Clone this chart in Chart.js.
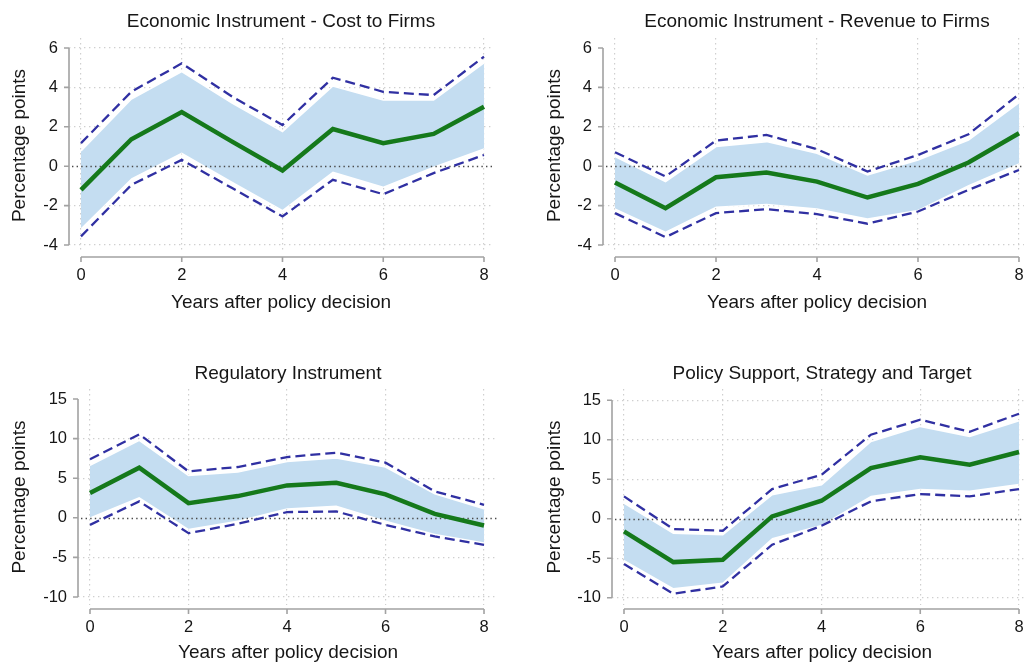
<!DOCTYPE html>
<html>
<head>
<meta charset="utf-8">
<title>Policy effects by instrument type</title>
<script src="https://cdn.jsdelivr.net/npm/chart.js@4/dist/chart.umd.min.js"></script>
<style>
  html, body { margin: 0; padding: 0; background: #fff; overflow: hidden; width: 1024px; height: 664px; }
  canvas { position: absolute; display: block; }
</style>
</head>
<body>
<canvas id="p1"></canvas>
<canvas id="p2"></canvas>
<canvas id="p3"></canvas>
<canvas id="p4"></canvas>
<script>
// Horizon (years after the policy decision)
const years = [0, 1, 2, 3, 4, 5, 6, 7, 8];
const xTicks = [0, 2, 4, 6, 8];
const yTicksSmall = [-4, -2, 0, 2, 4, 6];
const yTicksLarge = [-10, -5, 0, 5, 10, 15];

// Economic instrument - cost to firms
const costEst  = [-1.20, 1.37, 2.75, 1.25, -0.22, 1.89, 1.17, 1.64, 3.02];
const costHi68 = [0.78, 3.41, 4.80, 3.20, 1.76, 4.07, 3.36, 3.36, 5.25];
const costLo68 = [-3.14, -0.61, 0.69, -0.78, -2.21, -0.27, -1.03, -0.02, 0.91];
const costHi90 = [1.17, 3.78, 5.22, 3.53, 2.09, 4.49, 3.78, 3.61, 5.56];
const costLo90 = [-3.56, -0.95, 0.32, -1.11, -2.55, -0.69, -1.42, -0.35, 0.57];

// Economic instrument - revenue to firms
const revEst  = [-0.83, -2.13, -0.56, -0.32, -0.78, -1.59, -0.90, 0.19, 1.67];
const revHi68 = [0.49, -0.78, 1.00, 1.25, 0.66, -0.44, 0.32, 1.33, 3.23];
const revLo68 = [-2.13, -3.31, -2.04, -1.91, -2.13, -2.64, -2.21, -0.95, 0.15];
const revHi90 = [0.71, -0.52, 1.30, 1.59, 0.86, -0.27, 0.57, 1.62, 3.65];
const revLo90 = [-2.38, -3.60, -2.38, -2.18, -2.43, -2.92, -2.30, -1.20, -0.19];

// Regulatory instrument
const regEst  = [3.12, 6.32, 1.85, 2.74, 4.09, 4.43, 2.95, 0.50, -0.97];
const regHi68 = [6.62, 9.78, 5.35, 5.78, 7.12, 7.55, 6.41, 3.04, 1.14];
const regLo68 = [0.08, 2.61, -1.39, -0.34, 1.22, 1.56, -0.34, -2.02, -3.08];
const regHi90 = [7.38, 10.54, 5.86, 6.41, 7.67, 8.22, 6.96, 3.33, 1.64];
const regLo90 = [-0.89, 2.07, -1.94, -0.76, 0.72, 0.80, -0.89, -2.36, -3.41];

// Policy support, strategy and target
const polEst  = [-1.60, -5.49, -5.19, 0.30, 2.28, 6.42, 7.77, 6.84, 8.45];
const polHi68 = [1.98, -1.82, -2.03, 3.04, 4.31, 9.80, 11.70, 10.43, 12.42];
const polLo68 = [-5.19, -8.78, -8.07, -2.45, -0.76, 2.91, 3.80, 3.59, 4.43];
const polHi90 = [2.83, -1.31, -1.52, 3.76, 5.57, 10.64, 12.54, 11.02, 13.30];
const polLo90 = [-5.74, -9.50, -8.57, -3.29, -0.89, 2.20, 3.13, 2.83, 3.76];

const FONT = "'Liberation Sans', Arial, Helvetica, sans-serif";
const INK = '#161616';
const GREEN = '#15791b';
const NAVY = '#3030a2';
const BAND = '#c4ddf1';
const AXIS = '#a2a2a2';

Chart.defaults.font.family = FONT;
Chart.defaults.color = INK;

const pts = vals => vals.map((v, i) => ({ x: years[i], y: v }));

// Stata-style detached axes plus the dotted zero reference line
const axisFrame = {
  id: 'axisFrame',
  afterDatasetDraw(chart, args) {
    if (args.index !== 3) return;
    const { ctx, chartArea, scales: { y } } = chart;
    const py = Math.round(y.getPixelForValue(0)) + 0.5;
    ctx.save();
    ctx.strokeStyle = '#4a4a4a';
    ctx.lineWidth = 1.3;
    ctx.setLineDash([1.4, 3.2]);
    ctx.beginPath();
    ctx.moveTo(chartArea.left + 3, py);
    ctx.lineTo(chartArea.right, py);
    ctx.stroke();
    ctx.restore();
  },
  afterDraw(chart, args, opts) {
    const { ctx, chartArea, scales: { x, y } } = chart;
    ctx.save();
    ctx.strokeStyle = AXIS;
    ctx.lineWidth = 1.6;
    ctx.setLineDash([]);
    const ax = chartArea.left;
    const yp = y.ticks.map(t => y.getPixelForValue(t.value));
    ctx.beginPath();
    ctx.moveTo(ax, Math.min(...yp));
    ctx.lineTo(ax, Math.max(...yp));
    yp.forEach(p => { ctx.moveTo(ax - 5, p); ctx.lineTo(ax, p); });
    const ay = chartArea.bottom + opts.gap;
    const xp = x.ticks.map(t => x.getPixelForValue(t.value));
    ctx.moveTo(Math.min(...xp), ay);
    ctx.lineTo(Math.max(...xp), ay);
    xp.forEach(p => { ctx.moveTo(p, ay); ctx.lineTo(p, ay + 5); });
    ctx.stroke();
    ctx.restore();
  }
};

function makePanel(id, cfg) {
  const el = document.getElementById(id);
  el.width = cfg.w; el.height = cfg.h;
  el.style.left = cfg.left + 'px'; el.style.top = cfg.top + 'px';
  el.style.width = cfg.w + 'px'; el.style.height = cfg.h + 'px';

  const gridColor = ctx => (ctx.tick && cfg.grid.includes(ctx.tick.value)) ? '#cfcfcf' : 'rgba(0,0,0,0)';
  const dashed = vals => ({ data: pts(vals), borderColor: NAVY, borderWidth: 2.3, borderDash: [10, 5], pointRadius: 0, fill: false, tension: 0 });

  new Chart(el, {
    type: 'line',
    data: {
      datasets: [
        { data: pts(cfg.est), borderColor: GREEN, borderWidth: 4.5, pointRadius: 0, fill: false, tension: 0 },
        dashed(cfg.hi90),
        dashed(cfg.lo90),
        { data: pts(cfg.hi68), borderColor: '#ffffff', borderWidth: 1.6, backgroundColor: BAND, pointRadius: 0, fill: '+1', tension: 0 },
        { data: pts(cfg.lo68), borderColor: '#ffffff', borderWidth: 1.6, backgroundColor: BAND, pointRadius: 0, fill: false, tension: 0 }
      ]
    },
    options: {
      responsive: false,
      animation: false,
      events: [],
      layout: { padding: { left: cfg.padL, right: cfg.padR, top: cfg.padT, bottom: cfg.padB } },
      plugins: {
        legend: { display: false },
        tooltip: { enabled: false },
        title: {
          display: true, text: cfg.title, fullSize: false, color: INK,
          font: { size: 19, weight: 'normal', lineHeight: 1.2 },
          padding: { top: 0, bottom: cfg.titleGap }
        },
        axisFrame: { gap: 4 }
      },
      scales: {
        x: {
          type: 'linear', min: cfg.xMin, max: cfg.xMax,
          afterBuildTicks: s => { s.ticks = xTicks.map(v => ({ value: v })); },
          afterFit: s => { s.height = cfg.xH; },
          ticks: { padding: 13, font: { size: 16.5 }, color: INK, callback: v => String(v) },
          grid: { color: '#cfcfcf', lineWidth: 1.2, drawTicks: false },
          border: { display: false, dash: [1.4, 3.6] },
          title: { display: true, text: 'Years after policy decision', color: INK, font: { size: 19, lineHeight: 1.2 }, padding: { top: 0, bottom: 0 } }
        },
        y: {
          type: 'linear', min: cfg.yMin, max: cfg.yMax,
          afterBuildTicks: s => { s.ticks = cfg.yTicks.map(v => ({ value: v })); },
          afterFit: s => { s.width = cfg.yW; },
          ticks: { padding: 11, font: { size: 16.5 }, color: INK, callback: v => String(v) },
          grid: { color: gridColor, lineWidth: 1.2, drawTicks: false },
          border: { display: false, dash: [1.4, 3.6] },
          title: { display: true, text: 'Percentage points', color: INK, font: { size: 19, lineHeight: 1.2 }, padding: { top: cfg.yTitlePad, bottom: 0 } }
        }
      }
    },
    plugins: [axisFrame]
  });
}

// Top row: plot area 38..253 px, bottom row: 57..273 px (canvas-local)
makePanel('p1', {
  left: 0, top: 0, w: 512, h: 332,
  title: 'Economic Instrument - Cost to Firms',
  est: costEst, hi68: costHi68, lo68: costLo68, hi90: costHi90, lo90: costLo90,
  yTicks: yTicksSmall, grid: [-4, -2, 2, 4, 6],
  xMin: -0.238, xMax: 8.179, yMin: -4.406, yMax: 6.508,
  padL: 0, padR: 19, padT: 10.6, padB: 18, titleGap: 4.6, xH: 61, yW: 69, yTitlePad: 8.6
});
makePanel('p2', {
  left: 512, top: 0, w: 530, h: 332,
  title: 'Economic Instrument - Revenue to Firms',
  est: revEst, hi68: revHi68, lo68: revLo68, hi90: revHi90, lo90: revLo90,
  yTicks: yTicksSmall, grid: [-4, -2, 2, 4],
  xMin: -0.238, xMax: 8.238, yMin: -4.406, yMax: 6.508,
  padL: 22, padR: 11, padT: 10.6, padB: 18, titleGap: 4.6, xH: 61, yW: 69, yTitlePad: 9.6
});
makePanel('p3', {
  left: 0, top: 332, w: 512, h: 332,
  title: 'Regulatory Instrument',
  est: regEst, hi68: regHi68, lo68: regLo68, hi90: regHi90, lo90: regLo90,
  yTicks: yTicksLarge, grid: [-10, -5, 5, 10],
  xMin: -0.2437, xMax: 8.284, yMin: -11.01, yMax: 16.26,
  padL: 0, padR: 14, padT: 30.6, padB: 0, titleGap: 3.6, xH: 59, yW: 78, yTitlePad: 8.6
});
makePanel('p4', {
  left: 512, top: 332, w: 532, h: 332,
  title: 'Policy Support, Strategy and Target',
  est: polEst, hi68: polHi68, lo68: polLo68, hi90: polHi90, lo90: polLo90,
  yTicks: yTicksLarge, grid: [-10, -5, 5, 10, 15],
  xMin: -0.243, xMax: 8.263, yMin: -10.92, yMax: 16.43,
  padL: 22, padR: 12, padT: 30.6, padB: 0, titleGap: 3.6, xH: 59, yW: 78, yTitlePad: 9.6
});
</script>
</body>
</html>
